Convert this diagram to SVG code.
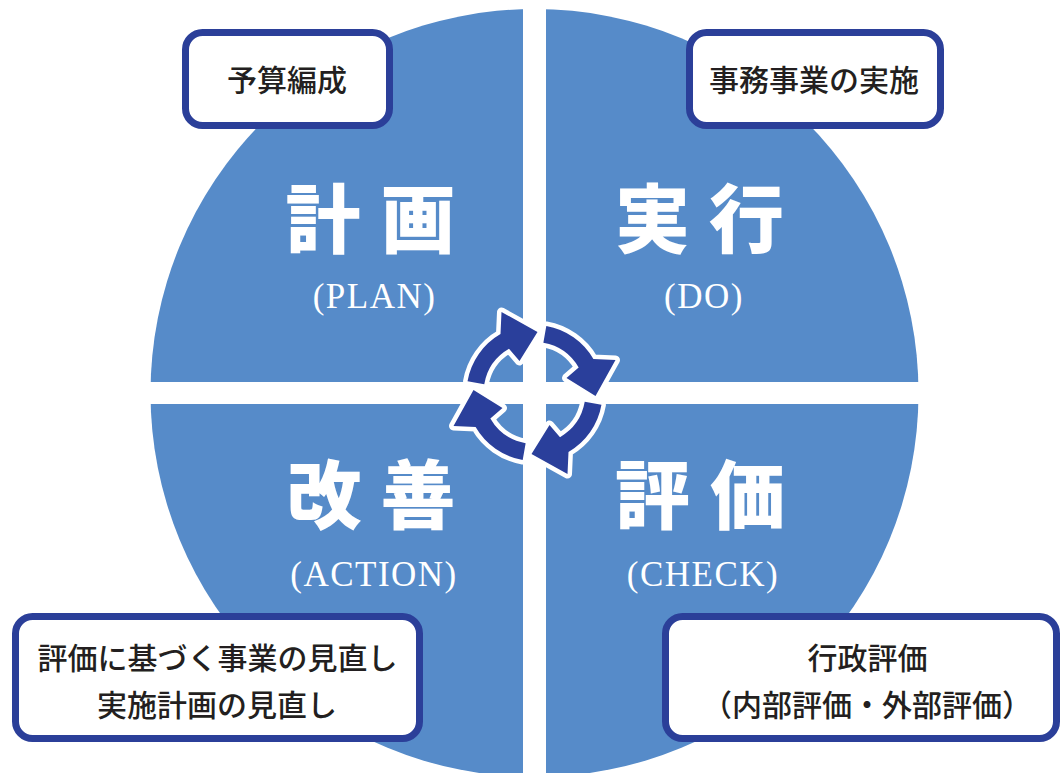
<svg xmlns="http://www.w3.org/2000/svg" width="1060" height="773" viewBox="0 0 1060 773">
<style>
.box{fill:#fff;stroke:#2b3f99;stroke-width:7}
.bt{font-family:"Noto Sans CJK JP","Noto Sans",sans-serif;font-size:30px;font-weight:500;fill:#231f20;text-anchor:middle}
.big{font-family:"Noto Sans CJK JP","Noto Sans",sans-serif;font-size:75px;font-weight:900;fill:#fff;text-anchor:middle}
.en{font-family:"Liberation Serif","Noto Sans CJK JP",serif;font-size:35px;fill:#fff;text-anchor:middle;letter-spacing:1.5px}
.arr{fill:#2a3f9b;stroke:#fff;stroke-width:9;paint-order:stroke;stroke-linejoin:round}
</style>
<defs>
<path id="arrow" d="M11.81,-66.97 A68,68 0 0 1 58.89,-34 L81,-33 L61,3 L32,-15 L44.17,-25.5 A51,51 0 0 0 8.86,-50.23 Z"/>
</defs>
<g id="cycle-circle">
<circle cx="534.5" cy="393" r="384" fill="#568bc9"/>
<rect x="523" y="0" width="23" height="773" fill="#fff"/>
<rect x="140" y="382" width="790" height="22" fill="#fff"/>
</g>
<g id="connectors">
<use href="#arrow" class="arr" transform="translate(534.5,393)"/>
<use href="#arrow" class="arr" transform="translate(534.5,393) rotate(90)"/>
<use href="#arrow" class="arr" transform="translate(534.5,393) rotate(180)"/>
<use href="#arrow" class="arr" transform="translate(534.5,393) rotate(270)"/>
</g>
<g id="plan">
<text class="big" x="323 418" y="247">計画</text>
<text class="en" x="374.5" y="308">(PLAN)</text>
</g>
<g id="do">
<text class="big" x="652.5 746.5" y="247">実行</text>
<text class="en" x="704" y="308">(DO)</text>
</g>
<g id="action">
<text class="big" x="324 418" y="523">改善</text>
<text class="en" x="374" y="586">(ACTION)</text>
</g>
<g id="check">
<text class="big" x="652.5 747.5" y="523">評価</text>
<text class="en" x="703" y="586">(CHECK)</text>
</g>
<g id="box-budget">
<rect class="box" x="185.5" y="32.5" width="204" height="93" rx="17"/>
<text class="bt" x="287" y="91">予算編成</text>
</g>
<g id="box-exec">
<rect class="box" x="689.5" y="32.5" width="251" height="93" rx="17"/>
<text class="bt" x="814" y="91">事務事業の実施</text>
</g>
<g id="box-review">
<rect class="box" x="15.5" y="616.5" width="404" height="122" rx="17"/>
<text class="bt" x="217.5" y="669">評価に基づく事業の見直し</text>
<text class="bt" x="217" y="716">実施計画の見直し</text>
</g>
<g id="box-eval">
<rect class="box" x="665.5" y="616.5" width="391" height="122" rx="17"/>
<text class="bt" x="867.5" y="669">行政評価</text>
<text class="bt" x="867" y="716">（内部評価・外部評価）</text>
</g>
</svg>
